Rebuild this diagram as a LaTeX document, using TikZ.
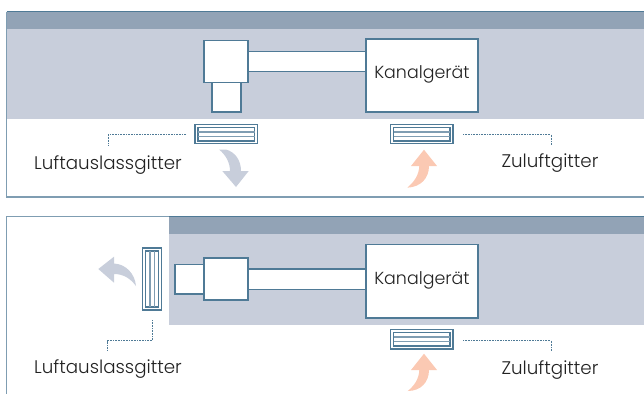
\documentclass[tikz,border=0pt]{standalone}
\usepackage{fontspec}
\setmainfont{Poppins Light}
\tikzset{
  box/.style={fill=white,draw=mycolor4F7A96,line width=0.3mm},
  outer/.style={fill=white,draw=mycolor4F7A96,line width=0.3mm},
  slat/.style={draw=mycolor7F9DB2,line width=0.35mm},
  leader/.style={draw=mycolor4F7A96,line width=0.25mm,dash pattern=on 0.2mm off 0.2mm},
  label/.style={text=mycolor222222,inner sep=0.0,font=\fontsize{13pt}{15pt}\selectfont},
  unitlabel/.style={text=mycolor222222,inner sep=0.0,font=\fontsize{12.4pt}{15pt}\selectfont},
}
\begin{document}
\begin{tikzpicture}[x=0.25mm,y=-0.25mm]
\definecolor{mycolor4F7A96}{HTML}{4F7A96}
\definecolor{mycolor7F9DB2}{HTML}{7F9DB2}
\definecolor{mycolor92A3B6}{HTML}{92A3B6}
\definecolor{mycolorC8CEDB}{HTML}{C8CEDB}
\definecolor{mycolorFBC9B3}{HTML}{FBC9B3}
\definecolor{mycolor222222}{HTML}{222222}
\useasboundingbox (0,0) rectangle (644,394);
% upper panel
\begin{scope}
\path [fill=mycolorC8CEDB] (7,29) rectangle (644,119);
\path [fill=mycolor92A3B6] (7,12) rectangle (644,29);
\draw [mycolor7F9DB2,line width=0.4mm] (644,197) -- (6.5,197) -- (6.5,11.5);
\draw [mycolor4F7A96,line width=0.4mm] (6.5,11.5) -- (644,11.5);
\path [box] (240,51.5) rectangle (370,71.5);
\path [box] (212,80) rectangle (241,112);
\path [box] (204,40.5) rectangle (248,82.5);
\path [box] (366,39) rectangle (478,112);
\node [unitlabel] (unitA) at (422,74) {Kanalgerät};
\end{scope}
\begin{scope}
\path [outer] (195,124.5) rectangle (257.5,143.5);
\path [box] (198,127.5) rectangle (254.5,141);
\draw [slat] (198,132) -- (254.5,132);
\draw [slat] (198,136.5) -- (254.5,136.5);
\path [outer] (390.5,124.5) rectangle (453,143.5);
\path [box] (393.5,127.5) rectangle (450,141);
\draw [slat] (393.5,132) -- (450,132);
\draw [slat] (393.5,136.5) -- (450,136.5);
\end{scope}
\coordinate (outA) at (186,134.5);
\coordinate (outAb) at (108,134.5);
\coordinate (outAc) at (108,145);
\coordinate (inA) at (463,134.5);
\coordinate (inAb) at (551,134.5);
\coordinate (inAc) at (551,145);
\draw [leader] (outA) -- (outAb) -- (outAc);
\draw [leader] (inA) -- (inAb) -- (inAc);
\node [label] (outtextA) at (108,165) {Luftauslassgitter};
\node [label] (intextA) at (550,163) {Zuluftgitter};
\path [fill=mycolorC8CEDB] (219,149.5) -- (226,149.5) .. controls (235,152) and (241,160) .. (241,171) -- (248.7,171) -- (236,187) -- (222.3,171) -- (230,171) .. controls (230,163) and (226,155) .. (219,149.5);
\path [fill=mycolorFBC9B3] (424,149.7) -- (437,166) -- (429,166) .. controls (429,178) and (421,187) .. (407.3,187.7) .. controls (414,182) and (419,175) .. (419.3,166) -- (411,166) -- cycle;
% lower panel
\begin{scope}
\draw [mycolor7F9DB2,line width=0.4mm] (169,216.5) -- (6.5,216.5) -- (6.5,394);
\path [fill=mycolorC8CEDB] (169,234) rectangle (644,325);
\path [fill=mycolor92A3B6] (169,217) rectangle (644,234);
\draw [mycolor4F7A96,line width=0.4mm] (169,216.5) -- (644,216.5);
\path [box] (240,269) rectangle (370,289.5);
\path [box] (175,264.5) rectangle (210,294);
\path [box] (204,258) rectangle (248,300);
\path [box] (366,244.5) rectangle (478,318);
\node [unitlabel] (unitB) at (422,280) {Kanalgerät};
\end{scope}
\begin{scope}
\path [outer] (142.5,248) rectangle (161.5,310);
\path [box] (145.5,251) rectangle (158.5,307);
\draw [slat] (149.8,251) -- (149.8,307);
\draw [slat] (154.2,251) -- (154.2,307);
\path [outer] (390.5,329.5) rectangle (453,349);
\path [box] (393.5,332.5) rectangle (450,346);
\draw [slat] (393.5,337) -- (450,337);
\draw [slat] (393.5,341.5) -- (450,341.5);
\end{scope}
\coordinate (outB) at (152.5,320);
\coordinate (outBb) at (152.5,340.5);
\coordinate (outBc) at (107,340.5);
\coordinate (outBd) at (107,351);
\coordinate (inB) at (463,340.5);
\coordinate (inBb) at (551,340.5);
\coordinate (inBc) at (551,351);
\draw [leader] (outB) -- (outBb) -- (outBc) -- (outBd);
\draw [leader] (inB) -- (inBb) -- (inBc);
\node [label] (outtextB) at (108,369) {Luftauslassgitter};
\node [label] (intextB) at (550,370) {Zuluftgitter};
\path [fill=mycolorC8CEDB] (98.3,269) -- (114,256.7) -- (114,263.5) .. controls (126,264) and (135,274) .. (136,286) .. controls (130,278) and (123,274) .. (114,274) -- (114,282.7) -- cycle;
\path [fill=mycolorFBC9B3] (424,353.7) -- (437,370) -- (429,370) .. controls (429,382) and (421,391) .. (407.7,391) .. controls (414,386) and (419,379) .. (419.3,370) -- (411,370) -- cycle;
\end{tikzpicture}
\end{document}
